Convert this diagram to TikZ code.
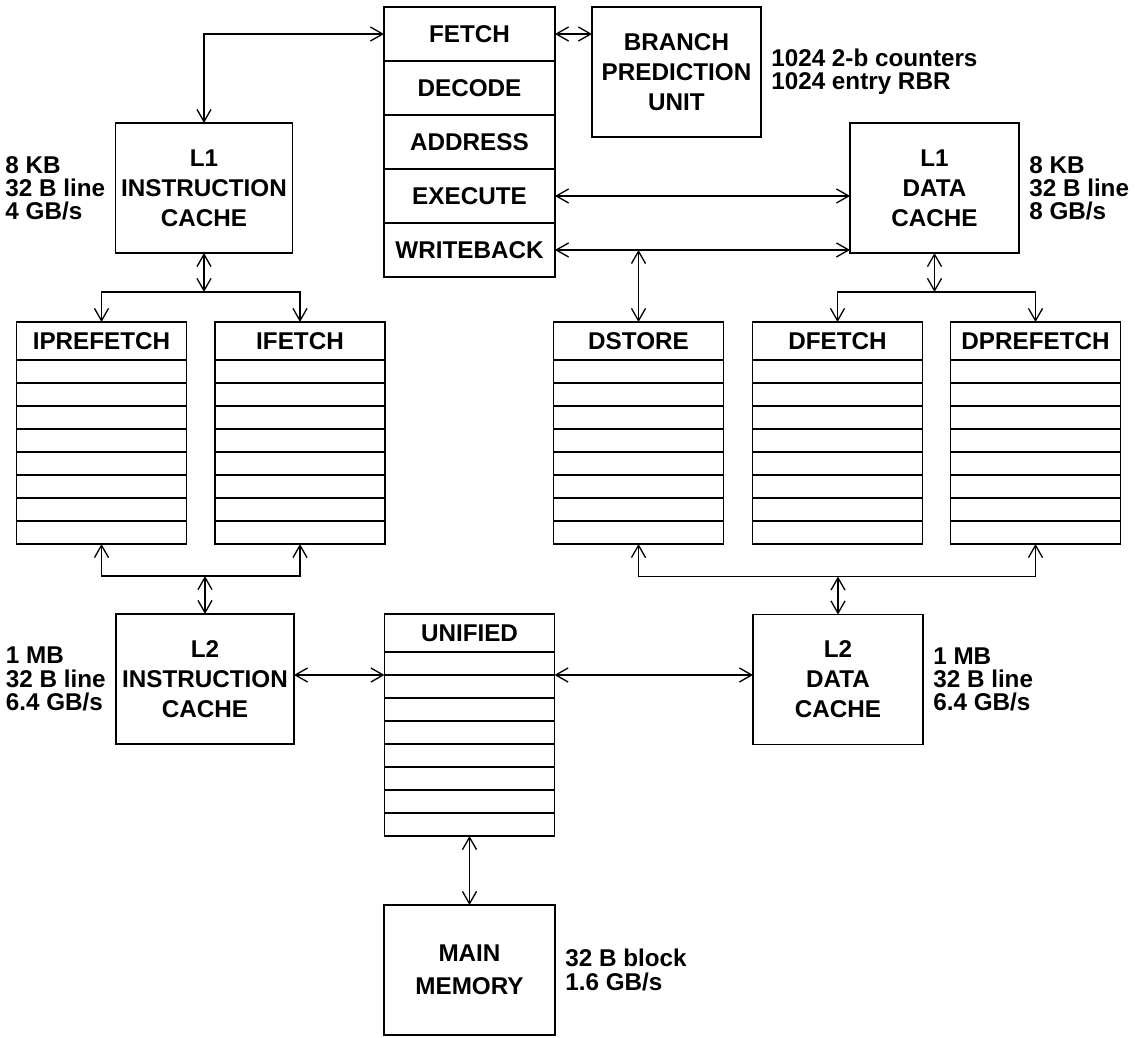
\documentclass[tikz,border=0pt]{standalone}
\usepackage{fontspec}
\setmainfont{Liberation Sans}
\usetikzlibrary{arrows.meta,positioning,calc}

\begin{document}
\begin{tikzpicture}[
    x=0.02cm, y=-0.02cm,
    font=\bfseries\fontsize{13.8}{17}\selectfont,
    node distance=2mm,
    box/.style={draw,line width=0.85pt,minimum width=3.4cm,minimum height=2.6cm,
      align=center,inner sep=0pt,outer sep=0pt},
    stage/.style={draw,line width=0.85pt,minimum width=3.42cm,minimum height=1.08cm,
      inner sep=0pt,outer sep=0pt},
    qhead/.style={draw,line width=0.85pt,minimum width=3.4cm,minimum height=0.76cm,
      inner sep=0pt,outer sep=0pt},
    qrow/.style={draw,line width=0.85pt,minimum width=3.4cm,minimum height=0.46cm,
      inner sep=0pt,outer sep=0pt},
    note/.style={align=left,inner sep=0pt,font=\bfseries\fontsize{13.8}{13.2}\selectfont},
    arr/.style={{Straight Barb[length=7pt,width=8pt]}-{Straight Barb[length=7pt,width=8pt]},
      line width=0.75pt},
    onearr/.style={-{Straight Barb[length=7pt,width=8pt]},line width=0.75pt}
  ]
    \useasboundingbox (0,0) rectangle (1140,1038);

    % pipeline
    \node[stage] (fetch) at (469.5,34) {FETCH};
    \node[stage,below=0pt of fetch] (decode) {DECODE};
    \node[stage,below=0pt of decode] (address) {ADDRESS};
    \node[stage,below=0pt of address] (execute) {EXECUTE};
    \node[stage,below=0pt of execute] (writeback) {WRITEBACK};

    \node[box,minimum width=3.38cm] (bpu) at (676.5,72) {BRANCH\\PREDICTION\\UNIT};
    \node[note,right=of bpu] {1024 2-b counters\\1024 entry RBR};

    % caches
    \node[box,minimum width=3.54cm] (l1i) at (204,188) {L1\\INSTRUCTION\\CACHE};
    \node[note,left=of l1i] {8 KB\\32 B line\\4 GB/s};
    \node[box,minimum width=3.38cm] (l1d) at (934.5,188) {L1\\DATA\\CACHE};
    \node[note,right=of l1d] {8 KB\\32 B line\\8 GB/s};
    \node[box,minimum width=3.56cm] (l2i) at (205,679) {L2\\INSTRUCTION\\CACHE};
    \node[note,left=of l2i] {1 MB\\32 B line\\6.4 GB/s};
    \node[box] (l2d) at (838,679.5) {L2\\DATA\\CACHE};
    \node[note,right=of l2d] {1 MB\\32 B line\\6.4 GB/s};
    \node[box,minimum width=3.42cm] (mainmem) at (469.5,970) {MAIN\\[1.5pt]MEMORY};
    \node[note,right=of mainmem] {32 B block\\1.6 GB/s};

    % queues
    \foreach \q/\x/\y/\txt in {iprefetch/101.5/341/IPREFETCH, ifetch/300/341/IFETCH,
        dstore/638.5/341/DSTORE, dfetch/837.5/341/DFETCH, dprefetch/1035.5/341/DPREFETCH,
        unified/469.5/633/UNIFIED} {
      \node[qhead] (\q) at (\x,\y) {\txt};
      \foreach \i in {1,...,8}
        \node[qrow] (\q-\i) at ($(\q.south)+(0,{23*\i-11.5})$) {};
    }

    \coordinate (isplit) at ($(l1i.south)+(0,39)$);
    \coordinate (dsplit) at ($(l1d.south)+(0,39)$);
    \coordinate (imerge) at ($(l2i.north)+(0,-38)$);
    \coordinate (dmerge) at ($(l2d.north)+(0,-38)$);

    \draw[arr] (l1i.north) |- (fetch.west);
    \draw[arr] (fetch.east) -- (fetch.east -| bpu.west);
    \draw[arr] (execute.east) -- (execute.east -| l1d.west);
    \draw[arr] (writeback.east) -- (writeback.east -| l1d.west);
    \draw[arr] (dstore.north) -- (dstore.north |- writeback.east);

    \draw[arr] (l1i.south) -- (isplit);
    \draw[onearr] (isplit) -| (iprefetch.north);
    \draw[onearr] (isplit) -| (ifetch.north);
    \draw[arr] (l1d.south) -- (dsplit);
    \draw[onearr] (dsplit) -| (dfetch.north);
    \draw[onearr] (dsplit) -| (dprefetch.north);

    \draw[arr] (imerge) -- (l2i.north);
    \draw[onearr] (imerge) -| (iprefetch-8.south);
    \draw[onearr] (imerge) -| (ifetch-8.south);
    \draw[arr] (dmerge) -- (l2d.north);
    \draw[onearr] (dmerge) -| (dstore-8.south);
    \draw[onearr] (dmerge) -| (dprefetch-8.south);

    \draw[arr] (unified-1.south west -| l2i.east) -- (unified-1.south west);
    \draw[arr] (unified-1.south east) -- (unified-1.south east -| l2d.west);
    \draw[arr] (unified-8.south) -- (mainmem.north);
\end{tikzpicture}
\end{document}
